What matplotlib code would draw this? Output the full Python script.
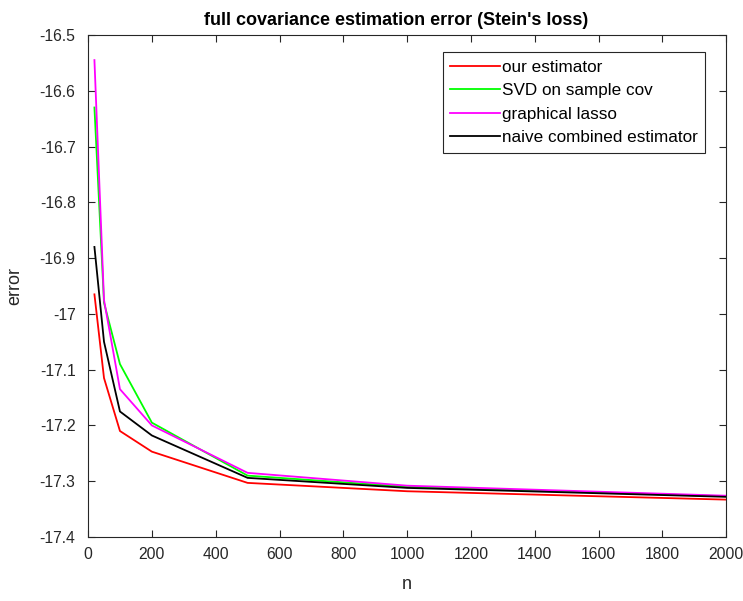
import matplotlib
matplotlib.use('Agg')
import matplotlib.pyplot as plt
from matplotlib.ticker import FuncFormatter

plt.rcParams['font.family'] = ['Liberation Sans', 'DejaVu Sans']

# data
n = [20, 50, 100, 200, 500, 1000, 2000]
ours = [-16.965, -17.115, -17.21, -17.247, -17.303, -17.318, -17.333]
svd = [-16.63, -16.98, -17.09, -17.195, -17.29, -17.31, -17.327]
glasso = [-16.545, -16.975, -17.135, -17.2, -17.285, -17.308, -17.326]
naive = [-16.88, -17.05, -17.175, -17.218, -17.294, -17.312, -17.328]
labels = ['our estimator', 'SVD on sample cov', 'graphical lasso',
          'naive combined estimator']
colors = ['#ff0000', '#00ff00', '#ff00ff', '#000000']

fig = plt.figure(figsize=(7.43, 6.01), dpi=100)
ax = fig.add_axes([0.1185, 0.1065, 0.859, 0.8353])

for y, lab, c in zip([ours, svd, glasso, naive], labels, colors):
    ax.plot(n, y, color=c, lw=1.3, label=lab)

ax.set_xlim(0, 2000)
ax.set_ylim(-17.4, -16.5)
ax.set_xticks(range(0, 2001, 200))
ax.set_yticks([-17.4 + 0.1 * i for i in range(10)])
ax.yaxis.set_major_formatter(FuncFormatter(lambda v, p: '%g' % round(v, 1)))
ax.tick_params(direction='in', top=True, right=True, labelsize=11.3,
               length=5, color='#262626', labelcolor='#262626')
ax.tick_params(axis='y', pad=9)
ax.tick_params(axis='x', pad=7)
for s in ax.spines.values():
    s.set_color('#262626')
    s.set_linewidth(0.8)

ax.set_title("full covariance estimation error (Stein's loss)",
             fontsize=13, fontweight='bold', pad=7, x=0.482)
ax.set_xlabel('n', fontsize=13, color='#262626', labelpad=10)
ax.set_ylabel('error', fontsize=13, color='#262626', labelpad=12)

leg = ax.legend(loc='upper right', bbox_to_anchor=(0.967, 0.966), fontsize=12.3,
                handlelength=2.9, handletextpad=0.1, borderpad=0.45,
                labelspacing=0.5, borderaxespad=0, fancybox=False, framealpha=1)
leg.get_frame().set_edgecolor('#262626')
leg.get_frame().set_linewidth(0.8)

fig.savefig('out.png', dpi=100)
